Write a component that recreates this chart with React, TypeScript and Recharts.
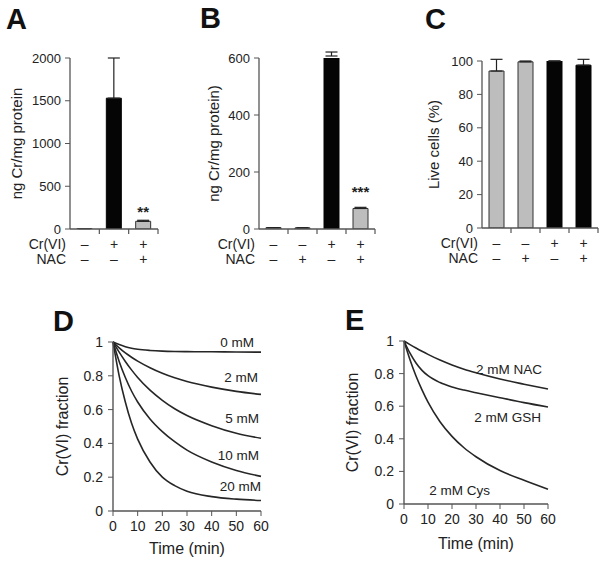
import React from 'react'
import { Bar, BarChart, Cell, ErrorBar, LabelList, Line, LineChart, XAxis, YAxis } from 'recharts'

const FONT = '"Liberation Sans", Arial, Helvetica, sans-serif'
const INK = '#222'
const AXIS = '#555'
const GRAY = '#bdbdbd'
const BLACK = '#050505'

// A: Cr uptake (ng Cr / mg protein)
const crA = ['–', '+', '+']
const nacA = ['–', '–', '+']
const uptakeA = [5, 1530, 90]
const uptakeErrA = [0, 470, 12]
const sigA = ['', '', '**']
const ticksA = [0, 500, 1000, 1500, 2000]

// B: Cr uptake, second experiment
const crB = ['–', '–', '+', '+']
const nacB = ['–', '+', '–', '+']
const uptakeB = [5, 4, 607, 72]
const uptakeErrB = [0, 0, 14, 4]
const sigB = ['', '', '', '***']
const ticksB = [0, 200, 400, 600]

// C: viability
const crC = ['–', '–', '+', '+']
const nacC = ['–', '+', '–', '+']
const liveC = [94, 99.5, 100, 97.5]
const liveErrC = [7, 0.5, 0, 3.5]
const ticksC = [0, 20, 40, 60, 80, 100]

// D / E: Cr(VI) reduction kinetics
const times = [0, 2.5, 5, 7.5, 10, 15, 20, 25, 30, 40, 50, 60]
const mM0 = [1, 0.985, 0.972, 0.963, 0.957, 0.95, 0.946, 0.944, 0.943, 0.942, 0.941, 0.94]
const mM2 = [1, 0.965, 0.935, 0.91, 0.887, 0.848, 0.815, 0.788, 0.766, 0.733, 0.708, 0.69]
const mM5 = [1, 0.94, 0.885, 0.835, 0.79, 0.715, 0.655, 0.605, 0.565, 0.505, 0.46, 0.43]
const mM10 = [1, 0.885, 0.79, 0.71, 0.645, 0.545, 0.47, 0.41, 0.36, 0.29, 0.24, 0.205]
const mM20 = [1, 0.8, 0.645, 0.52, 0.425, 0.29, 0.2, 0.15, 0.117, 0.085, 0.07, 0.062]
const nacE = [1, 0.978, 0.957, 0.937, 0.918, 0.883, 0.853, 0.827, 0.805, 0.767, 0.735, 0.705]
const gshE = [1, 0.925, 0.865, 0.82, 0.787, 0.745, 0.718, 0.699, 0.683, 0.652, 0.622, 0.595]
const cysE = [1, 0.885, 0.785, 0.7, 0.625, 0.505, 0.415, 0.345, 0.29, 0.205, 0.145, 0.09]
const fractionTicks = [0, 0.2, 0.4, 0.6, 0.8, 1]
const timeTicks = [0, 10, 20, 30, 40, 50, 60]

function SignTick(props: any) {
  const { x, y, index, half, cr, nac } = props
  const sign = { fontSize: 14, fill: INK, fontFamily: FONT, textAnchor: 'middle' as const }
  const row = { fontSize: 14, fill: INK, fontFamily: FONT, textAnchor: 'end' as const }
  return (
    <g>
      <line x1={x + half} x2={x + half} y1={y} y2={y + 5} stroke={AXIS} strokeWidth={1.2} />
      <text x={x} y={y + 20} {...sign}>{cr[index]}</text>
      <text x={x} y={y + 35} {...sign}>{nac[index]}</text>
      {index === 0 && (
        <>
          <text x={x - half - 4} y={y + 20} {...row}>Cr(VI)</text>
          <text x={x - half - 4} y={y + 35} {...row}>NAC</text>
        </>
      )}
    </g>
  )
}

function BarPanel(p: any) {
  const data = p.values.map((v: number, i: number) => ({
    name: `g${i}`,
    value: v,
    err: [0, p.errors[i]],
    sig: p.sig[i],
  }))
  const plotW = p.width - p.yWidth - p.marginRight
  const plotH = p.height - p.marginTop - p.xHeight
  const half = plotW / p.values.length / 2
  return (
    <div style={{ position: 'absolute', left: p.left, top: p.top }}>
      <BarChart
        width={p.width}
        height={p.height}
        data={data}
        margin={{ top: p.marginTop, right: p.marginRight, left: 0, bottom: 0 }}
      >
        <XAxis
          dataKey="name"
          height={p.xHeight}
          interval={0}
          axisLine={{ stroke: AXIS, strokeWidth: 1.3 }}
          tickLine={false}
          tickSize={0}
          tickMargin={0}
          tick={(t: any) => <SignTick {...t} half={half} cr={p.cr} nac={p.nac} />}
        />
        <YAxis
          width={p.yWidth}
          domain={[0, p.ticks[p.ticks.length - 1]]}
          ticks={p.ticks}
          allowDataOverflow
          axisLine={{ stroke: AXIS, strokeWidth: 1.3 }}
          tickLine={{ stroke: AXIS }}
          tickSize={5}
          tickMargin={4}
          tick={{ fontSize: 13, fill: INK, fontFamily: FONT }}
          label={() => (
            <text
              transform={`translate(${p.titleX},${p.marginTop + plotH / 2}) rotate(-90)`}
              textAnchor="middle"
              dominantBaseline="central"
              fontSize={15}
              fontFamily={FONT}
              fill={INK}
            >
              {p.title}
            </text>
          )}
        />
        <Bar dataKey="value" barSize={15} isAnimationActive={false} strokeWidth={1}>
          {data.map((_: any, i: number) => (
            <Cell key={i} fill={p.fills[i]} stroke={p.fills[i] === GRAY ? '#333' : BLACK} />
          ))}
          <ErrorBar dataKey="err" width={6} stroke="#222" strokeWidth={1.2} direction="y" />
          <LabelList
            dataKey="sig"
            position="top"
            offset={p.sigOffset}
            fill={INK}
            fontSize={15}
            fontFamily={FONT}
            fontWeight="bold"
          />
        </Bar>
      </BarChart>
    </div>
  )
}

function KineticsPanel(p: any) {
  const data = times.map((t, i) => {
    const row: any = { t }
    p.series.forEach((s: any) => {
      row[s.key] = s.values[i]
    })
    return row
  })
  const plotW = p.width - p.yWidth - p.marginRight
  const plotH = p.height - p.marginTop - p.xHeight
  const endLabel = (s: any) => (props: any) => {
    if (props.index !== times.length - 1) return null
    const x = props.x ?? props.viewBox?.x
    const y = props.y ?? props.viewBox?.y
    return (
      <text
        x={x + s.dx}
        y={y + s.dy}
        textAnchor="end"
        fontSize={13.5}
        fontFamily={FONT}
        fill={INK}
      >
        {s.label}
      </text>
    )
  }
  return (
    <div style={{ position: 'absolute', left: p.left, top: p.top }}>
      <LineChart
        width={p.width}
        height={p.height}
        data={data}
        margin={{ top: p.marginTop, right: p.marginRight, left: 0, bottom: 0 }}
      >
        <XAxis
          dataKey="t"
          type="number"
          domain={[0, 60]}
          ticks={timeTicks}
          height={p.xHeight}
          axisLine={{ stroke: AXIS, strokeWidth: 1.4 }}
          tickLine={{ stroke: AXIS }}
          tickSize={5}
          tickMargin={5}
          tick={{ fontSize: 14, fill: INK, fontFamily: FONT }}
          label={() => (
            <text
              x={p.yWidth + plotW / 2}
              y={p.marginTop + plotH + p.xTitleDy}
              textAnchor="middle"
              dominantBaseline="central"
              fontSize={16}
              fontFamily={FONT}
              fill={INK}
            >
              Time (min)
            </text>
          )}
        />
        <YAxis
          width={p.yWidth}
          domain={[0, 1]}
          ticks={fractionTicks}
          axisLine={{ stroke: AXIS, strokeWidth: 1.4 }}
          tickLine={{ stroke: AXIS }}
          tickSize={5}
          tickMargin={5}
          tick={{ fontSize: 14, fill: INK, fontFamily: FONT }}
          label={() => (
            <text
              transform={`translate(${p.titleX},${p.marginTop + plotH / 2}) rotate(-90)`}
              textAnchor="middle"
              dominantBaseline="central"
              fontSize={16}
              fontFamily={FONT}
              fill={INK}
            >
              Cr(VI) fraction
            </text>
          )}
        />
        {p.series.map((s: any) => (
          <Line
            key={s.key}
            dataKey={s.key}
            type="monotone"
            stroke="#262626"
            strokeWidth={1.6}
            dot={false}
            isAnimationActive={false}
          >
            <LabelList dataKey={s.key} content={endLabel(s)} />
          </Line>
        ))}
      </LineChart>
    </div>
  )
}

const seriesD = [
  { key: 'm0', label: '0 mM', values: mM0, dx: -7, dy: -5 },
  { key: 'm2', label: '2 mM', values: mM2, dx: -3, dy: -12 },
  { key: 'm5', label: '5 mM', values: mM5, dx: -2, dy: -15 },
  { key: 'm10', label: '10 mM', values: mM10, dx: -2, dy: -16 },
  { key: 'm20', label: '20 mM', values: mM20, dx: 0, dy: -10 },
]

const seriesE = [
  { key: 'nac', label: '2 mM NAC', values: nacE, dx: -6, dy: -15 },
  { key: 'gsh', label: '2 mM GSH', values: gshE, dx: -7, dy: 15 },
  { key: 'cys', label: '2 mM Cys', values: cysE, dx: -58, dy: 6 },
]

const letters = [
  { t: 'A', x: 6, y: 29 },
  { t: 'B', x: 200, y: 28 },
  { t: 'C', x: 425, y: 29 },
  { t: 'D', x: 53, y: 331 },
  { t: 'E', x: 345, y: 330 },
]

export default function App() {
  return (
    <div
      style={{
        position: 'absolute',
        left: 0,
        top: 0,
        width: 604,
        height: 563,
        background: '#fff',
        fontFamily: FONT,
      }}
    >
      <BarPanel
        left={0} top={0} width={170} height={270}
        yWidth={70} marginTop={58} marginRight={12} xHeight={41}
        values={uptakeA} errors={uptakeErrA} sig={sigA} fills={[GRAY, BLACK, GRAY]}
        cr={crA} nac={nacA} ticks={ticksA}
        title="ng Cr/mg protein" titleX={16} sigOffset={4}
      />
      <BarPanel
        left={190} top={0} width={195} height={270}
        yWidth={69} marginTop={58} marginRight={10} xHeight={41}
        values={uptakeB} errors={uptakeErrB} sig={sigB} fills={[GRAY, GRAY, BLACK, GRAY]}
        cr={crB} nac={nacB} ticks={ticksB}
        title="ng Cr/mg protein)" titleX={23} sigOffset={11}
      />
      <BarPanel
        left={390} top={0} width={214} height={270}
        yWidth={92} marginTop={61} marginRight={6} xHeight={42}
        values={liveC} errors={liveErrC} sig={['', '', '', '']} fills={[GRAY, GRAY, BLACK, BLACK]}
        cr={crC} nac={nacC} ticks={ticksC}
        title="Live cells (%)" titleX={43} sigOffset={4}
      />
      <KineticsPanel
        left={0} top={300} width={275} height={263}
        yWidth={113} marginTop={42} marginRight={14} xHeight={52}
        series={seriesD} titleX={62} xTitleDy={37}
      />
      <KineticsPanel
        left={300} top={300} width={304} height={263}
        yWidth={104} marginTop={41} marginRight={56} xHeight={59}
        series={seriesE} titleX={52} xTitleDy={39}
      />
      <svg
        width={604}
        height={563}
        style={{ position: 'absolute', left: 0, top: 0, pointerEvents: 'none' }}
      >
        {letters.map((l) => (
          <text key={l.t} x={l.x} y={l.y} fontSize={29} fontWeight="bold" fontFamily={FONT} fill="#111">
            {l.t}
          </text>
        ))}
      </svg>
    </div>
  )
}
